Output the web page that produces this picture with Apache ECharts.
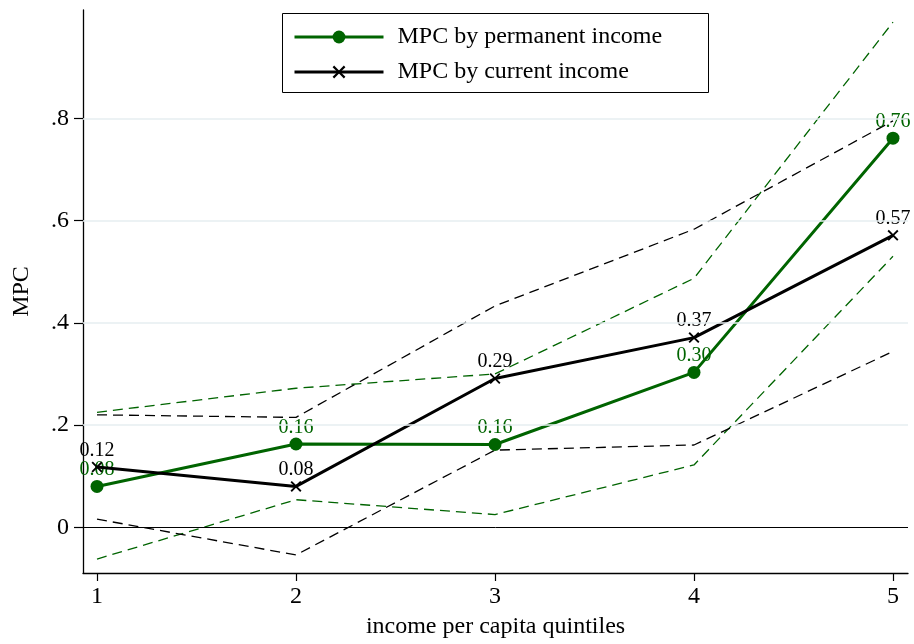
<!DOCTYPE html>
<html>
<head>
<meta charset="utf-8">
<script src="https://cdn.jsdelivr.net/npm/echarts@6/dist/echarts.min.js"></script>
<style>
  html, body { margin: 0; padding: 0; background: #fff; }
  #chart { width: 914px; height: 644px; }
</style>
</head>
<body>
<div id="chart"></div>
<script>
// Income per capita quintiles on the x axis
const quintiles = [1, 2, 3, 4, 5];

// Point estimates of the marginal propensity to consume
const mpcPermanent = [0.080, 0.163, 0.162, 0.303, 0.761];
const mpcCurrent = [0.118, 0.080, 0.291, 0.371, 0.571];

// Confidence bands (dashed)
const permUpper = [0.225, 0.272, 0.300, 0.487, 0.988];
const permLower = [-0.062, 0.054, 0.025, 0.122, 0.530];
const currUpper = [0.220, 0.215, 0.433, 0.583, 0.795];
const currLower = [0.016, -0.054, 0.151, 0.161, 0.344];

// Axis ticks
const xTicks = [1, 2, 3, 4, 5];
const yTicks = [0, 0.2, 0.4, 0.6, 0.8];
const yGrid = [0.2, 0.4, 0.6, 0.8];

const GREEN = '#006400';
const SERIF = 'Liberation Serif';

const pairs = ys => quintiles.map((q, i) => [q, ys[i]]);
const fmtTick = v => (v === 0 ? '0' : v.toFixed(1).replace(/^0/, ''));

const crossPath = 'path://M0,1.2 L1.2,0 L5,3.8 L8.8,0 L10,1.2 L6.2,5 L10,8.8 L8.8,10 L5,6.2 L1.2,10 L0,8.8 L3.8,5 Z';

function band(name, ys, color) {
  return {
    name: name,
    type: 'line',
    data: pairs(ys),
    symbol: 'none',
    silent: true,
    z: 1,
    lineStyle: { color: color, width: 1.3, type: [10, 6] }
  };
}

const chart = echarts.init(document.getElementById('chart'), null, { renderer: 'canvas' });

chart.setOption({
  animation: false,
  backgroundColor: '#fff',
  grid: { left: 83, right: 6, top: 10, bottom: 67, containLabel: false },
  xAxis: {
    type: 'value',
    min: 0.9296,
    max: 5.0754,
    name: 'income per capita quintiles',
    nameLocation: 'middle',
    nameGap: 42,
    nameTextStyle: { fontFamily: SERIF, fontSize: 24, color: '#000' },
    axisLine: { show: true, onZero: false, lineStyle: { color: '#000', width: 1.3 } },
    axisTick: { show: true, customValues: xTicks, length: 8, lineStyle: { color: '#000', width: 1.2 } },
    axisLabel: { customValues: xTicks, margin: 12, fontFamily: SERIF, fontSize: 24, color: '#000' },
    splitLine: { show: false }
  },
  yAxis: {
    type: 'value',
    min: -0.0893,
    max: 1.0117,
    name: 'MPC',
    nameLocation: 'middle',
    nameGap: 49,
    nameTextStyle: { fontFamily: SERIF, fontSize: 24, color: '#000' },
    axisLine: { show: true, onZero: false, lineStyle: { color: '#000', width: 1.3 } },
    axisTick: { show: true, customValues: yTicks, length: 9, lineStyle: { color: '#000', width: 1.2 } },
    axisLabel: { customValues: yTicks, margin: 14, fontFamily: SERIF, fontSize: 24, color: '#000', formatter: fmtTick },
    splitLine: { show: false }
  },
  legend: {
    data: ['MPC by permanent income', 'MPC by current income'],
    orient: 'vertical',
    left: 293,
    top: 25,
    padding: 0,
    itemWidth: 89,
    itemHeight: 16,
    itemGap: 11,
    selectedMode: false,
    lineStyle: { width: 3 },
    textStyle: { fontFamily: SERIF, fontSize: 24, color: '#000', lineHeight: 22, padding: [0, 0, 0, 9] }
  },
  graphic: [{
    type: 'rect',
    shape: { x: 282.5, y: 13.5, width: 426, height: 79 },
    style: { fill: 'none', stroke: '#000', lineWidth: 1 },
    z: 100
  }],
  series: [
    {
      name: 'gridlines',
      type: 'line',
      data: [],
      silent: true,
      z: 0,
      markLine: {
        silent: true,
        symbol: 'none',
        label: { show: false },
        animation: false,
        data: yGrid.map(v => ({ yAxis: v, lineStyle: { color: '#e6eef1', width: 1.5, type: 'solid' } }))
          .concat([{ yAxis: 0, lineStyle: { color: '#000', width: 1, type: 'solid' } }])
      }
    },
    band('permUpper', permUpper, GREEN),
    band('permLower', permLower, GREEN),
    band('currUpper', currUpper, '#000'),
    band('currLower', currLower, '#000'),
    {
      name: 'MPC by permanent income',
      type: 'line',
      data: pairs(mpcPermanent),
      z: 3,
      symbol: 'circle',
      symbolSize: 13,
      showAllSymbol: true,
      lineStyle: { color: GREEN, width: 3 },
      itemStyle: { color: GREEN },
      label: {
        show: true,
        position: 'top',
        distance: 0,
        fontFamily: SERIF,
        fontSize: 20,
        color: GREEN,
        formatter: p => p.value[1].toFixed(2)
      }
    },
    {
      name: 'MPC by current income',
      type: 'line',
      data: pairs(mpcCurrent),
      z: 4,
      symbol: crossPath,
      symbolSize: 11,
      showAllSymbol: true,
      lineStyle: { color: '#000', width: 3 },
      itemStyle: { color: '#000' },
      label: {
        show: true,
        position: 'top',
        distance: 1,
        fontFamily: SERIF,
        fontSize: 20,
        color: '#000',
        formatter: p => p.value[1].toFixed(2)
      }
    }
  ]
});
</script>
</body>
</html>
